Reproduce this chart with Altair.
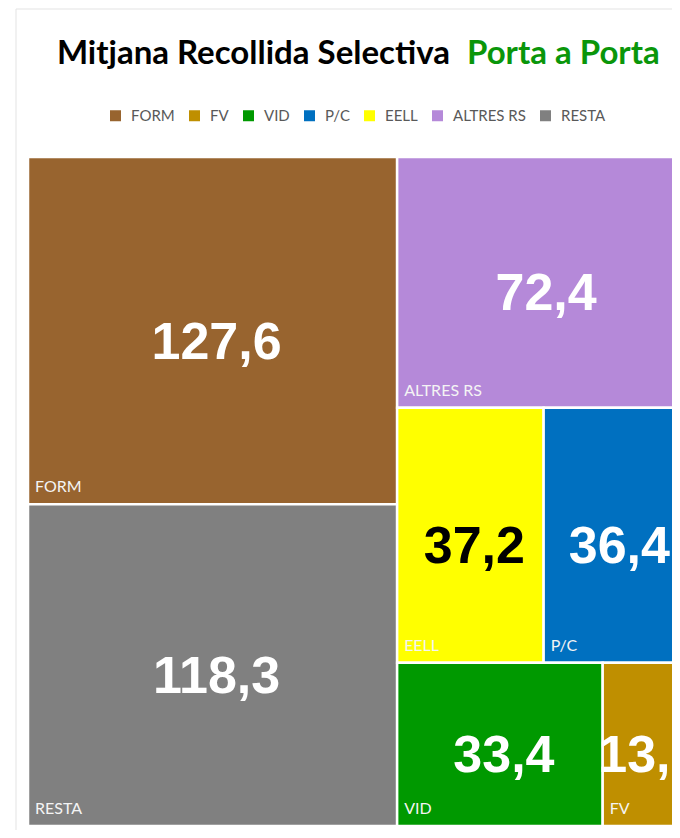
import altair as alt
import pandas as pd

TITLE_MAIN = "Mitjana Recollida Selectiva"
TITLE_GREEN = "Porta a Porta"

categories = ["FORM", "FV", "VID", "P/C", "EELL", "ALTRES RS", "RESTA"]
values = [127.6, 13.7, 33.4, 36.4, 37.2, 72.4, 118.3]
colors = ["#98642F", "#BF8F00", "#009900", "#0070C0", "#FFFF00", "#B589D9", "#808080"]

# ---- squarified treemap layout in a unit square ----
order = sorted(range(len(values)), key=lambda i: -values[i])
total = sum(values)
items = [(categories[i], values[i], values[i] / total) for i in order]


def worst(row, side):
    s = sum(r[2] for r in row)
    return max(max(side * side * r[2] / (s * s), (s * s) / (side * side * r[2])) for r in row)


records = []
x, y, w, h = 0.0, 0.0, 1.0, 1.0
rest = list(items)
while rest:
    side = min(w, h)
    row = [rest[0]]
    k = 1
    while k < len(rest) and worst(row + [rest[k]], side) <= worst(row, side):
        row.append(rest[k])
        k += 1
    s = sum(r[2] for r in row)
    if w >= h:
        cw = s / h
        yy = y
        for c, v, a in row:
            rh = a / cw
            records.append(dict(cat=c, value=v, x0=x, x1=x + cw, y0=yy, y1=yy + rh))
            yy += rh
        x += cw
        w -= cw
    else:
        rh = s / w
        xx = x
        for c, v, a in row:
            rw = a / rh
            records.append(dict(cat=c, value=v, x0=xx, x1=xx + rw, y0=y, y1=y + rh))
            xx += rw
        y += rh
        h -= rh
    rest = rest[k:]

df = pd.DataFrame(records)

PLOT_W = 644
FULL_W = 659
PLOT_H = 669
VISIBLE = PLOT_W / FULL_W

x_scale = alt.Scale(domain=[0, VISIBLE], nice=False, zero=False)
y_scale = alt.Scale(domain=[0, 1], nice=False, zero=False, reverse=True)

base = alt.Chart(df)

rects = base.mark_rect(stroke="white", strokeWidth=2.5, clip=True).encode(
    x=alt.X("x0:Q", scale=x_scale, axis=None),
    x2="x1:Q",
    y=alt.Y("y0:Q", scale=y_scale, axis=None),
    y2="y1:Q",
    color=alt.Color(
        "cat:N",
        scale=alt.Scale(domain=categories, range=colors),
        legend=alt.Legend(
            title=None,
            orient="none",
            legendX=80,
            legendY=-49,
            direction="horizontal",
            symbolType="square",
            symbolSize=121,
            symbolStrokeWidth=0,
            symbolOpacity=1,
            labelFont="Lato",
            labelFontSize=15,
            labelColor="#595959",
            labelOffset=8,
            columnPadding=12,
            padding=0,
        ),
    ),
)

cat_labels = base.mark_text(
    align="left", baseline="alphabetic", dx=7, dy=-12,
    font="Lato", fontSize=16, color="#f4f4f4", clip=True,
).encode(
    x=alt.X("x0:Q", scale=x_scale, axis=None),
    y=alt.Y("y1:Q", scale=y_scale, axis=None),
    text="cat:N",
)

val_labels = base.transform_calculate(
    xc="(datum.x0 + datum.x1) / 2",
    yc="(datum.y0 + datum.y1) / 2",
    lab="replace(format(datum.value, '.1f'), '.', ',')",
).mark_text(
    align="center", baseline="middle", dx=4, dy=12,
    font="Liberation Sans", fontWeight="bold", fontSize=52, clip=True,
).encode(
    x=alt.X("xc:Q", scale=x_scale, axis=None),
    y=alt.Y("yc:Q", scale=y_scale, axis=None),
    text="lab:N",
    color=alt.condition(alt.datum.cat == "EELL", alt.value("black"), alt.value("white")),
)

one = alt.Data(values=[{}])

title_black = alt.Chart(one).mark_text(
    align="right", baseline="alphabetic", font="Lato", fontWeight="bold",
    fontSize=33, color="black",
).encode(x=alt.value(422), y=alt.value(-93), text=alt.value(TITLE_MAIN))

title_green = alt.Chart(one).mark_text(
    align="left", baseline="alphabetic", font="Lato", fontWeight="bold",
    fontSize=33, color="#0A960A",
).encode(x=alt.value(439), y=alt.value(-93), text=alt.value(TITLE_GREEN))

frame_top = alt.Chart(one).mark_rule(color="#e3e3e3", strokeWidth=1).encode(
    x=alt.value(-12), x2=alt.value(PLOT_W), y=alt.value(-148)
)
frame_left = alt.Chart(one).mark_rule(color="#e3e3e3", strokeWidth=1).encode(
    x=alt.value(-12), y=alt.value(-148), y2=alt.value(PLOT_H + 4)
)

chart = alt.layer(
    frame_top, frame_left, rects, cat_labels, val_labels, title_black, title_green
).properties(
    width=PLOT_W,
    height=PLOT_H,
    autosize=alt.AutoSizeParams(type="none"),
    padding={"left": 20, "top": 149, "right": 0, "bottom": 4},
).configure_view(strokeWidth=0)

chart.save("out.html", embed_options={"renderer": "svg", "actions": False})
